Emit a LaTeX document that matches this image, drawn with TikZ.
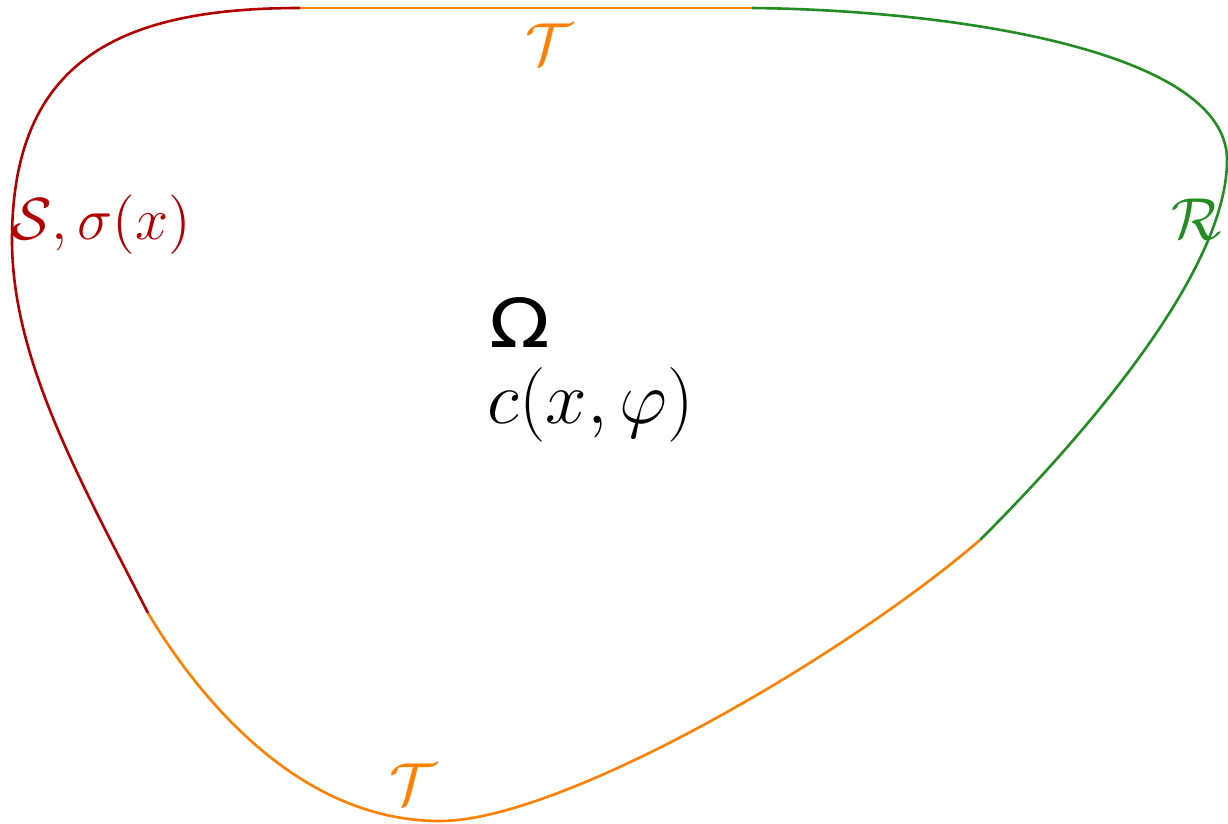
\documentclass[tikz,border=0pt]{standalone}
\usepackage{amsmath}
\usepackage{fontspec}
\newfontfamily\omfont{DejaVu Sans}
\definecolor{cRed}{RGB}{178,0,0}
\definecolor{cOrange}{RGB}{255,128,0}
\definecolor{cGreen}{RGB}{34,139,34}
\begin{document}
\begin{tikzpicture}[x=0.25pt,y=-0.25pt,
  bnd/.style={line width=0.65pt},
  lbl/.style={inner sep=0pt,font=\Large},
  mid/.style={inner sep=0pt,anchor=base west,font=\LARGE}]
\useasboundingbox (0,0) rectangle (1228,823);
% boundary pieces
\coordinate (p1) at (300,8);
\coordinate (p2) at (752,8);
\coordinate (p3) at (1227,160);
\coordinate (p4) at (980,540);
\coordinate (p5) at (440,821);
\coordinate (p6) at (148,613);
\coordinate (p7) at (12,240);
\draw[bnd,cOrange] (p1) -- (p2);
\draw[bnd,cGreen] (p2) .. controls (950,10) and (1227,50) .. (p3)
  .. controls (1227,265) and (1100,420) .. (p4);
\draw[bnd,cOrange] (p4) .. controls (840,660) and (560,821) .. (p5)
  .. controls (300,821) and (200,700) .. (p6);
\draw[bnd,cRed] (p6) .. controls (80,480) and (12,360) .. (p7)
  .. controls (12,60) and (120,8) .. (p1);
% labels
\node[lbl,text=cOrange] (ttop) at (549,44) {\scalebox{1.03}{$\mathcal{T}$}};
\node[lbl,text=cOrange] (tbot) at (413,784) {\scalebox{1.03}{$\mathcal{T}$}};
\node[lbl,text=cGreen] (rlab) at (1197,219) {\scalebox{1.03}{$\mathcal{R}$}};
\node[lbl,text=cRed] (slab) at (101,225) {\scalebox{1.03}{$\mathcal{S},\sigma(x)$}};
\node[mid] (om) at (489,347) {\scalebox{1.15}[0.98]{\omfont Ω}};
\node[mid] (cx) at (487,423) {\scalebox{1.08}{$c(x,\varphi)$}};
\end{tikzpicture}
\end{document}
